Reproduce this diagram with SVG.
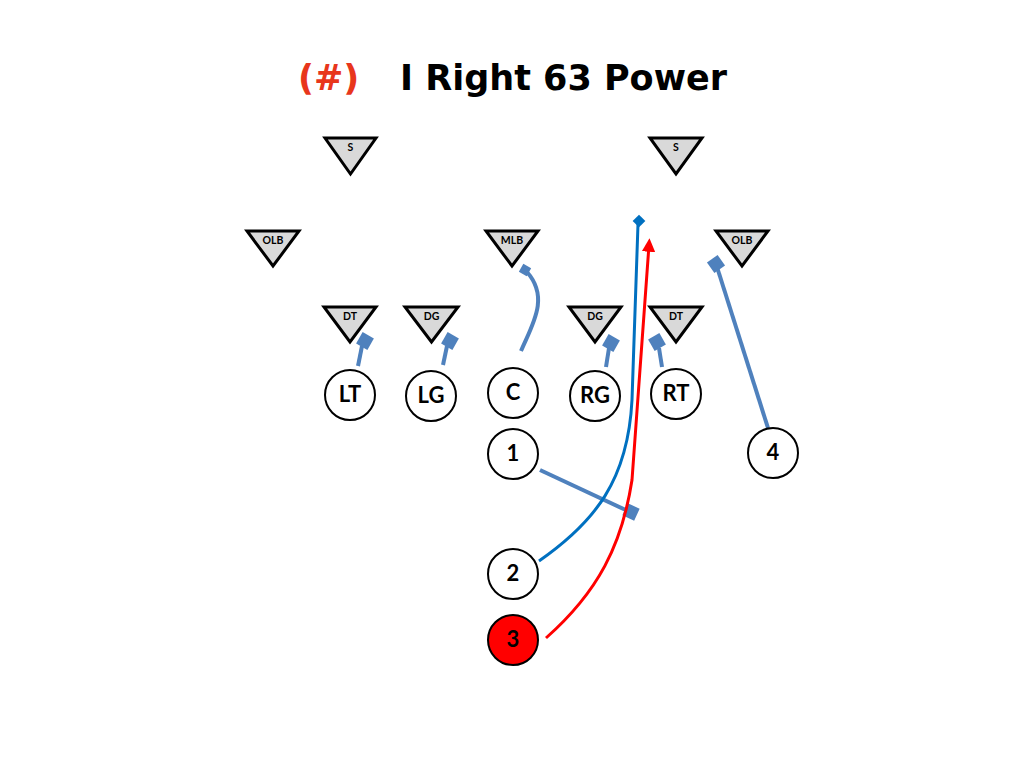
<svg xmlns="http://www.w3.org/2000/svg" width="1024" height="768" viewBox="0 0 1024 768">
<defs>
<style>
.tri{fill:#d9d9d9;stroke:#000;stroke-width:3;stroke-linejoin:miter}
.tl{font-family:Lato,"Open Sans",sans-serif;font-weight:bold;font-size:10.5px;text-anchor:middle;fill:#000}
.cir{fill:#fff;stroke:#000;stroke-width:2}
.cl{font-family:Lato,"Open Sans",sans-serif;font-weight:bold;font-size:22px;text-anchor:middle;fill:#000}
.blk{fill:none;stroke:#4f81bd;stroke-width:4;stroke-linecap:butt}
.sq{fill:#4f81bd}
</style>
<marker id="arr" viewBox="0 0 10 10" refX="5" refY="5" markerWidth="4.5" markerHeight="4.5" orient="auto" markerUnits="strokeWidth">
<path d="M0,0 L10,5 L0,10 z" fill="#ff0000"/>
</marker>
</defs>
<rect width="1024" height="768" fill="#fff"/>
<g id="title">
<text x="298" y="90" font-family="DejaVu Sans,sans-serif" font-weight="bold" font-size="35" fill="#e8361c">(#)</text>
<text x="400" y="90" font-family="DejaVu Sans,sans-serif" font-weight="bold" font-size="35" fill="#000">I Right 63 Power</text>
</g>
<g id="def-S-left"><polygon class="tri" points="325,138 376,138 350.5,174"/><text class="tl" x="350.5" y="151">S</text></g>
<g id="def-S-right"><polygon class="tri" points="650,138 702,138 676,174"/><text class="tl" x="676" y="151">S</text></g>
<g id="def-OLB-left"><polygon class="tri" points="247,231 299,231 273,266"/><text class="tl" x="273" y="244">OLB</text></g>
<g id="def-MLB"><polygon class="tri" points="486,231 538,231 512,266"/><text class="tl" x="512" y="244">MLB</text></g>
<g id="def-OLB-right"><polygon class="tri" points="716,231 768,231 742,266"/><text class="tl" x="742" y="244">OLB</text></g>
<g id="def-DT-left"><polygon class="tri" points="324,307 376,307 350,342"/><text class="tl" x="350" y="320">DT</text></g>
<g id="def-DG-left"><polygon class="tri" points="405,307 458,307 431.5,342"/><text class="tl" x="431.5" y="320">DG</text></g>
<g id="def-DG-right"><polygon class="tri" points="569,307 621,307 595,342"/><text class="tl" x="595" y="320">DG</text></g>
<g id="def-DT-right"><polygon class="tri" points="650,307 702,307 676,342"/><text class="tl" x="676" y="320">DT</text></g>
<g id="connectors">
<path class="blk" d="M358,366 L362,346"/>
<rect class="sq" x="-6.5" y="-6.5" width="13" height="13" transform="translate(365,341) rotate(30)"/>
<path class="blk" d="M443,365 L447,346"/>
<rect class="sq" x="-6.5" y="-6.5" width="13" height="13" transform="translate(450,341) rotate(30)"/>
<path class="blk" d="M606,367 L609,348"/>
<rect class="sq" x="-6.5" y="-6.5" width="13" height="13" transform="translate(611,343) rotate(30)"/>
<path class="blk" d="M662,367 L659,348"/>
<rect class="sq" x="-6.5" y="-6.5" width="13" height="13" transform="translate(657,342) rotate(-30)"/>
<path class="blk" stroke-width="3" d="M521,351 C532,325 550,298 527,272"/>
<rect class="sq" x="-4.5" y="-4.5" width="9" height="9" transform="translate(525,270) rotate(30)"/>
<path class="blk" d="M768,428 L717,267"/>
<rect class="sq" x="-6.5" y="-6.5" width="13" height="13" transform="translate(716,264) rotate(-35)"/>
<path class="blk" d="M540,470 L630,512"/>
<rect class="sq" x="-6.5" y="-6.5" width="13" height="13" transform="translate(631,512) rotate(25)"/>
<path fill="none" stroke="#0070c0" stroke-width="3" d="M539,561 C595,522 628,480 632,400 L638,224"/>
<rect fill="#0070c0" x="-4.5" y="-4.5" width="9" height="9" transform="translate(639,221) rotate(45)"/>
<path fill="none" stroke="#ff0000" stroke-width="3" d="M546,638 C598,592 622,545 632,480 L649,245" marker-end="url(#arr)"/>
</g>
<g id="LT"><circle class="cir" cx="350" cy="395" r="25"/><text class="cl" x="350" y="402">LT</text></g>
<g id="LG"><circle class="cir" cx="431" cy="396" r="25"/><text class="cl" x="431" y="403">LG</text></g>
<g id="C"><circle class="cir" cx="513" cy="393" r="25"/><text class="cl" x="513" y="400">C</text></g>
<g id="RG"><circle class="cir" cx="595" cy="396" r="25"/><text class="cl" x="595" y="403">RG</text></g>
<g id="RT"><circle class="cir" cx="676" cy="394" r="25"/><text class="cl" x="676" y="401">RT</text></g>
<g id="p1"><circle class="cir" cx="513" cy="454" r="25"/><text class="cl" x="513" y="461">1</text></g>
<g id="p4"><circle class="cir" cx="773" cy="453" r="25"/><text class="cl" x="773" y="460">4</text></g>
<g id="p2"><circle class="cir" cx="513" cy="574" r="25"/><text class="cl" x="513" y="581">2</text></g>
<g id="p3"><circle class="cir" cx="513" cy="640" r="25" fill="#ff0000" style="fill:#ff0000"/><text class="cl" x="513" y="647">3</text></g>
</svg>
